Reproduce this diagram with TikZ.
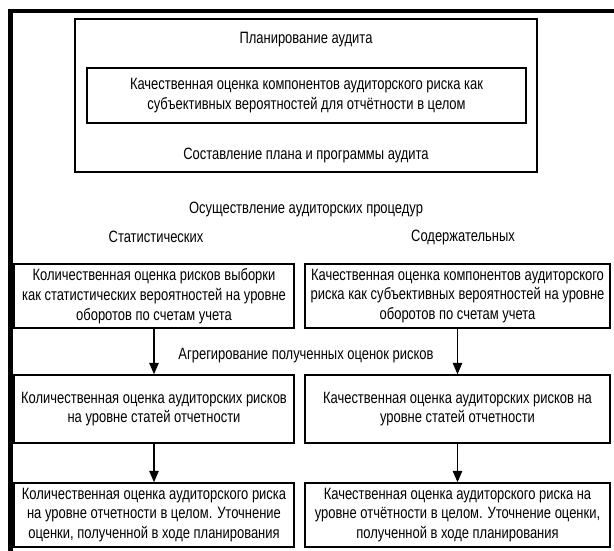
\documentclass[tikz,border=0pt]{standalone}
\usepackage{fontspec}
\setmainfont{Liberation Sans}[FakeStretch=0.79]
\usetikzlibrary{arrows.meta}

\begin{document}
\begin{tikzpicture}[x=0.75pt,y=-0.75pt,
    txt/.style={inner sep=0pt,align=center,font=\fontsize{12.3}{14.8}\selectfont},
    box/.style={txt,draw,line width=1.1pt},
    arr/.style={line width=1.1pt,-{Triangle[length=8.5pt,width=7pt]}}]
     \useasboundingbox (0,0) rectangle (614,550);
     \clip (0,0) rectangle (614,550);
     \draw[line width=3.5pt] (10.5,600) -- (10.5,11) -- (650,11);
     \node[box,minimum width=346.5pt,minimum height=114.75pt] (plan) at (306,95.5) {};
     \node[txt] (plantitle) at (306,40) {Планирование аудита};
     \node[box,minimum width=329.25pt,minimum height=41.25pt] (qual) at (306.5,95.5)
      {Качественная оценка компонентов аудиторского риска как\\субъективных вероятностей для отчётности в целом};
     \node[txt] (program) at (306,155) {Составление плана и программы аудита};
     \node[txt] (proc) at (306,209) {Осуществление аудиторских процедур};
     \node[txt] (stat) at (156,237) {Статистических};
     \node[txt] (subst) at (463,237) {Содержательных};
     \node[box,minimum width=210pt,minimum height=48pt] (r1l) at (154,296)
      {Количественная оценка рисков выборки\\как статистических вероятностей на уровне\\оборотов по счетам учета};
     \node[box,minimum width=228.75pt,minimum height=48pt] (r1r) at (457.5,296)
      {Качественная оценка компонентов аудиторского\\риска как субъективных вероятностей на уровне\\оборотов по счетам учета};
     \node[txt] (aggr) at (306,356) {Агрегирование полученных оценок рисков};
     \node[box,minimum width=210pt,minimum height=51pt] (r2l) at (154,409)
      {Количественная оценка аудиторских рисков\\на уровне статей отчетности};
     \node[box,minimum width=228.75pt,minimum height=51pt] (r2r) at (457.5,409)
      {Качественная оценка аудиторских рисков на\\уровне статей отчетности};
     \node[box,minimum width=210pt,minimum height=48pt] (r3l) at (154,515)
      {Количественная оценка аудиторского риска\\на уровне отчетности в целом. Уточнение\\оценки, полученной в ходе планирования};
     \node[box,minimum width=228.75pt,minimum height=48pt] (r3r) at (457.5,515)
      {Качественная оценка аудиторского риска на\\уровне отчётности в целом. Уточнение оценки,\\полученной в ходе планирования};
     \foreach \a/\b in {r1l/r2l,r1r/r2r,r2l/r3l,r2r/r3r} {
      \draw[arr] (\a.south) -- (\b.north);
     }
    \end{tikzpicture}
\end{document}
